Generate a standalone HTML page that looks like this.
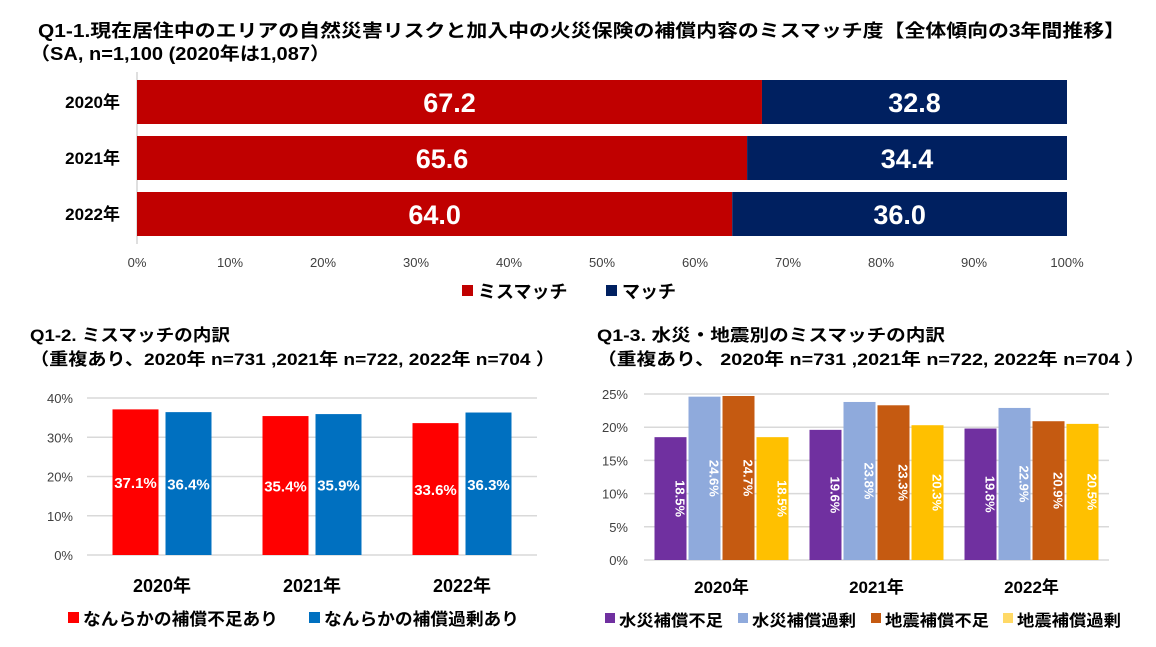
<!DOCTYPE html>
<html><head><meta charset="utf-8">
<style>
body{margin:0;background:#fff;width:1156px;height:642px;overflow:hidden;font-family:"Liberation Sans","Noto Sans CJK JP",sans-serif;}
svg text{font-family:"Liberation Sans","Noto Sans CJK JP",sans-serif;}
</style></head>
<body>
<svg id="s" width="1156" height="642" xmlns="http://www.w3.org/2000/svg">
<text x="38" y="37" font-size="18" font-weight="bold" fill="#000" textLength="1087" lengthAdjust="spacingAndGlyphs">Q1-1.現在居住中のエリアの自然災害リスクと加入中の火災保険の補償内容のミスマッチ度【全体傾向の3年間推移】</text>
<text x="30" y="60" font-size="18" font-weight="bold" fill="#000" textLength="300" lengthAdjust="spacingAndGlyphs">（SA, n=1,100 (2020年は1,087）</text>
<g id="top"></g>
<text x="30" y="341" font-size="17" font-weight="bold" textLength="200" lengthAdjust="spacingAndGlyphs">Q1-2. ミスマッチの内訳</text>
<text x="30" y="365" font-size="17" font-weight="bold" textLength="525" lengthAdjust="spacingAndGlyphs">（重複あり、2020年 n=731 ,2021年 n=722, 2022年 n=704 ）</text>
<g id="left"></g>
<text x="597" y="341" font-size="17" font-weight="bold" textLength="348" lengthAdjust="spacingAndGlyphs">Q1-3. 水災・地震別のミスマッチの内訳</text>
<text x="597" y="365" font-size="17" font-weight="bold" textLength="548" lengthAdjust="spacingAndGlyphs">（重複あり、 2020年 n=731 ,2021年 n=722, 2022年 n=704 ）</text>
<g id="right"></g>
</svg>
<script>
const topYears=["2020年","2021年","2022年"];
const topMismatch=[67.2,65.6,64.0];
const topMatch=[32.8,34.4,36.0];
const topTicks=[0,10,20,30,40,50,60,70,80,90,100];

const leftYears=["2020年","2021年","2022年"];
const leftShort=[37.1,35.4,33.6];
const leftOver=[36.4,35.9,36.3];
const leftTicks=[0,10,20,30,40];

const rightYears=["2020年","2021年","2022年"];
const floodShort=[18.5,19.6,19.8];
const floodOver=[24.6,23.8,22.9];
const quakeShort=[24.7,23.3,20.9];
const quakeOver=[18.5,20.3,20.5];
const rightTicks=[0,5,10,15,20,25];

const NS="http://www.w3.org/2000/svg";
function mk(parent,tag,attrs,txt){const e=document.createElementNS(NS,tag);for(const k in attrs)e.setAttribute(k,attrs[k]);if(txt!==undefined)e.textContent=txt;parent.appendChild(e);return e;}

// TOP chart
(function(){
const g=document.getElementById('top');
const x0=137,x1=1067,sx=v=>x0+(x1-x0)*v/100;
const rowY=[80,136,192],bh=44;
mk(g,'line',{x1:x0,y1:72,x2:x0,y2:244,stroke:'#bfbfbf'});
topYears.forEach((y,i)=>{
 let t=mk(g,'text',{x:120,y:rowY[i]+bh/2+6,'font-size':17,'font-weight':'bold','text-anchor':'end'},y);
 
 
 let r=mk(g,'rect',{x:sx(0),y:rowY[i],width:sx(topMismatch[i])-sx(0),height:bh,fill:'#c00000'});
 
 
 let r2=mk(g,'rect',{x:sx(topMismatch[i]),y:rowY[i],width:sx(topMismatch[i]+topMatch[i])-sx(topMismatch[i]),height:bh,fill:'#002060'});
 
 
 let l1=mk(g,'text',{x:(sx(0)+sx(topMismatch[i]))/2,y:rowY[i]+bh/2+10,'font-size':27,'font-weight':'bold',fill:'#fff','text-anchor':'middle'},topMismatch[i].toFixed(1));
 
 
 let l2=mk(g,'text',{x:(sx(topMismatch[i])+sx(100))/2,y:rowY[i]+bh/2+10,'font-size':27,'font-weight':'bold',fill:'#fff','text-anchor':'middle'},topMatch[i].toFixed(1));
 
 
});
topTicks.forEach(v=>{
 let t=mk(g,'text',{x:sx(v),y:267,'font-size':13,'text-anchor':'middle',fill:'#404040'},v+'%');
 
 
});
let lg=mk(g,'g',{});


mk(lg,'rect',{x:462,y:285,width:11,height:11,fill:'#c00000'});
mk(lg,'text',{x:478,y:298,'font-size':18,'font-weight':'bold'},'ミスマッチ');
mk(lg,'rect',{x:606,y:285,width:11,height:11,fill:'#002060'});
mk(lg,'text',{x:622,y:298,'font-size':18,'font-weight':'bold'},'マッチ');
})();

// LEFT chart
(function(){
const g=document.getElementById('left');
const px0=87,px1=537,y0=555,y1=398,sy=v=>y0-(y0-y1)*v/40;
const gw=(px1-px0)/3,bw=46,gap=7;
leftTicks.forEach(v=>{
 mk(g,'line',{x1:px0,y1:sy(v),x2:px1,y2:sy(v),stroke:'#d9d9d9','stroke-width':1.5});
 let t=mk(g,'text',{x:73,y:sy(v)+5,'font-size':13,'text-anchor':'end',fill:'#404040'},v+'%');
 
 
});
leftYears.forEach((yr,i)=>{
 const c=px0+gw*(i+0.5);
 [[leftShort[i],'#ff0000',c-gap/2-bw,'bar-shortage'],[leftOver[i],'#0070c0',c+gap/2,'bar-excess']].forEach(([v,col,x,nm])=>{
  let r=mk(g,'rect',{x:x,y:sy(v),width:bw,height:sy(0)-sy(v),fill:col});
  
  
  let t=mk(g,'text',{x:x+bw/2,y:(sy(v)+sy(0))/2+6,'font-size':15,'font-weight':'bold',fill:'#fff','text-anchor':'middle'},v.toFixed(1)+'%');
  
  
 });
 let t=mk(g,'text',{x:c,y:592,'font-size':18,'font-weight':'bold','text-anchor':'middle'},yr);
 
 
});
let lg=mk(g,'g',{});


mk(lg,'rect',{x:68,y:612,width:11,height:11,fill:'#ff0000'});
mk(lg,'text',{x:83,y:625,'font-size':17,'font-weight':'bold',textLength:195,lengthAdjust:'spacingAndGlyphs'},'なんらかの補償不足あり');
mk(lg,'rect',{x:309,y:612,width:11,height:11,fill:'#0070c0'});
mk(lg,'text',{x:324,y:625,'font-size':17,'font-weight':'bold',textLength:195,lengthAdjust:'spacingAndGlyphs'},'なんらかの補償過剰あり');
})();

// RIGHT chart
(function(){
const g=document.getElementById('right');
const px0=644,px1=1109,y0=560,y1=394,sy=v=>y0-(y0-y1)*v/25;
const gw=(px1-px0)/3,bw=32,gap=2;
rightTicks.forEach(v=>{
 mk(g,'line',{x1:px0,y1:sy(v),x2:px1,y2:sy(v),stroke:'#d9d9d9','stroke-width':1.5});
 let t=mk(g,'text',{x:628,y:sy(v)+5,'font-size':13,'text-anchor':'end',fill:'#404040'},v+'%');
 
 
});
const series=[[floodShort,'#7030a0','bar-flood-shortage'],[floodOver,'#8faadc','bar-flood-excess'],[quakeShort,'#c55a11','bar-quake-shortage'],[quakeOver,'#ffc000','bar-quake-excess']];
rightYears.forEach((yr,i)=>{
 const c=px0+gw*(i+0.5),start=c-(4*bw+3*gap)/2;
 series.forEach(([arr,col,nm],k)=>{
  const v=arr[i],x=start+k*(bw+gap);
  let r=mk(g,'rect',{x:x,y:sy(v),width:bw,height:sy(0)-sy(v),fill:col});
  
  
  const cy=(sy(v)+sy(0))/2;
  let t=mk(g,'text',{x:x+bw/2+5,y:cy,'font-size':13,'font-weight':'bold',fill:'#fff','text-anchor':'middle',transform:`rotate(90 ${x+bw/2+5} ${cy})`},v.toFixed(1)+'%');
  
  
 });
 let t=mk(g,'text',{x:c,y:593,'font-size':17,'font-weight':'bold','text-anchor':'middle'},yr);
 
 
});
let lg=mk(g,'g',{});


const names=['水災補償不足','水災補償過剰','地震補償不足','地震補償過剰'],cols=['#7030a0','#8faadc','#c55a11','#ffd966'],lx=[605,738,871,1003];
names.forEach((n,k)=>{
 mk(lg,'rect',{x:lx[k],y:613,width:10,height:10,fill:cols[k]});
 mk(lg,'text',{x:lx[k]+14,y:626,'font-size':16,'font-weight':'bold',textLength:104,lengthAdjust:'spacingAndGlyphs'},n);
});
})();
</script>
</body></html>
